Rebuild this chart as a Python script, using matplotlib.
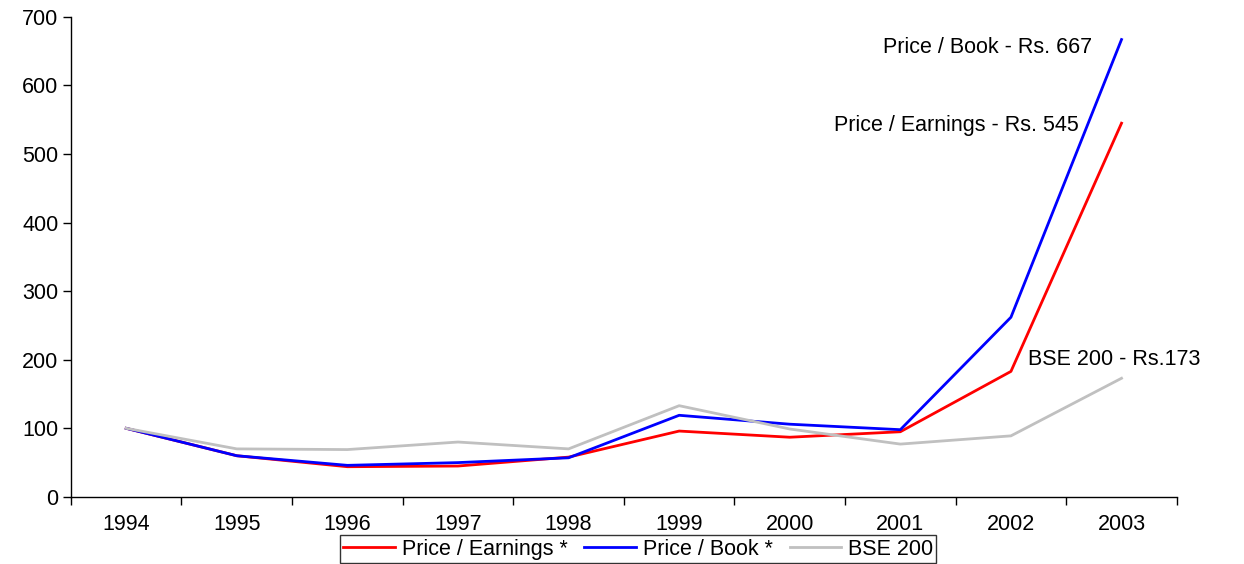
import matplotlib
matplotlib.use("Agg")
import matplotlib.pyplot as plt
import numpy as np

years = ["1994", "1995", "1996", "1997", "1998", "1999", "2000", "2001", "2002", "2003"]
price_earnings = [100, 60, 44, 45, 58, 96, 87, 95, 183, 545]
price_book = [100, 60, 46, 50, 57, 119, 106, 98, 262, 667]
bse200 = [100, 70, 69, 80, 70, 133, 99, 77, 89, 173]

plt.rcParams['font.family'] = ['Liberation Sans', 'DejaVu Sans']
FS = 15.5

fig = plt.figure(figsize=(12.44, 5.64), dpi=100)
ax = fig.add_axes([0.057, 0.119, 0.889, 0.851])

x = np.arange(len(years))
ax.plot(x, price_earnings, color='#FF0000', lw=2.0, label='Price / Earnings *')
ax.plot(x, price_book, color='#0000FF', lw=2.0, label='Price / Book *')
ax.plot(x, bse200, color='#C0C0C0', lw=2.0, label='BSE 200')

ax.set_xlim(-0.5, len(years) - 0.5)
ax.set_ylim(0, 700)
ax.set_yticks(np.arange(0, 701, 100))
ax.set_xticks(x)
ax.set_xticklabels(years)
ax.set_xticks(np.arange(-0.5, len(years), 1), minor=True)
ax.tick_params(axis='x', which='major', length=0, pad=12, labelsize=FS)
ax.tick_params(axis='x', which='minor', length=6, direction='out', width=1)
ax.tick_params(axis='y', length=6, direction='out', width=1, labelsize=FS, pad=3)
for s in ['top', 'right']:
    ax.spines[s].set_visible(False)
for s in ['left', 'bottom']:
    ax.spines[s].set_linewidth(1)
    ax.spines[s].set_color('black')

ax.text(8.73, 655, 'Price / Book - Rs. 667', ha='right', va='center', fontsize=FS)
ax.text(8.61, 542, 'Price / Earnings - Rs. 545', ha='right', va='center', fontsize=FS)
ax.text(8.15, 201, 'BSE 200 - Rs.173', ha='left', va='center', fontsize=FS)

leg = fig.legend(loc='lower center', bbox_to_anchor=(0.513, 0.0), ncol=3, fontsize=FS,
                 frameon=True, fancybox=False, edgecolor='black', handlelength=2.4,
                 handletextpad=0.3, columnspacing=0.8, borderpad=0.15, borderaxespad=0.05)
leg.get_frame().set_linewidth(1)

fig.savefig('out.png', dpi=100)
